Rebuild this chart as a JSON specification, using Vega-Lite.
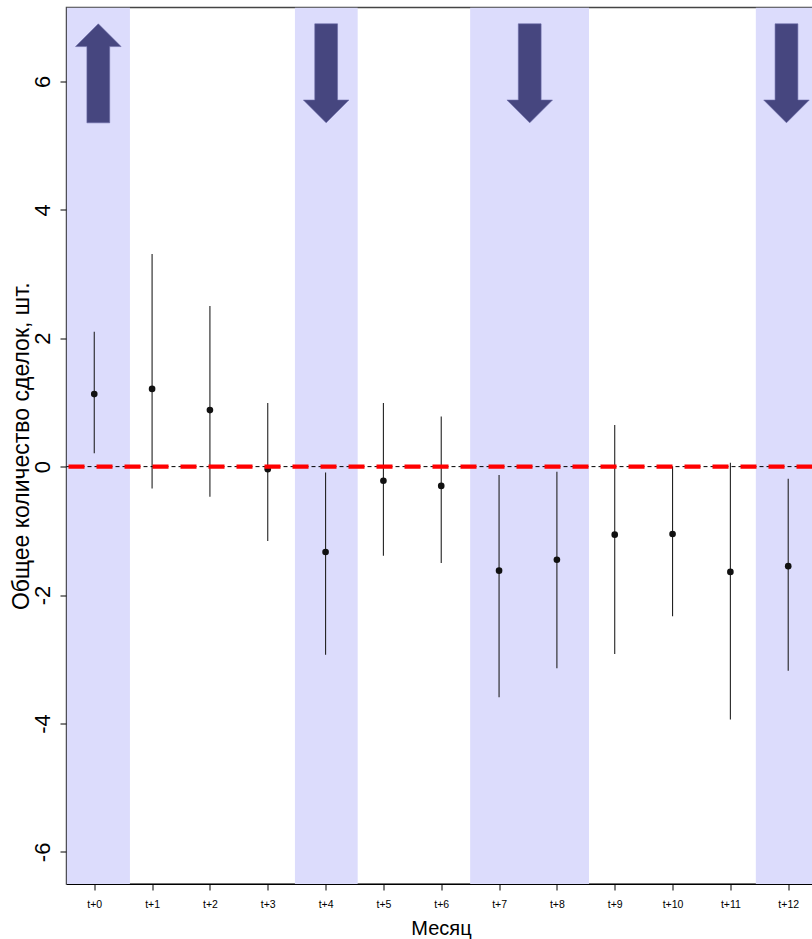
{
  "$schema": "https://vega.github.io/schema/vega-lite/v6.json",
  "autosize": {"type": "none"},
  "width": 746,
  "height": 876.5,
  "padding": {"left": 66.5, "top": 7.5, "right": 0, "bottom": 55},
  "background": "white",
  "config": {
    "font": "Liberation Sans",
    "view": {"stroke": "#444", "strokeWidth": 1.5},
    "axis": {"grid": false, "domainColor": "black", "tickColor": "black", "labelColor": "black", "titleColor": "black", "titleFontWeight": "normal"}
  },
  "datasets": {
    "est": [
      {"m": 0, "est": 1.13, "lo": 0.21, "hi": 2.10},
      {"m": 1, "est": 1.21, "lo": -0.34, "hi": 3.31},
      {"m": 2, "est": 0.88, "lo": -0.47, "hi": 2.50},
      {"m": 3, "est": -0.04, "lo": -1.16, "hi": 0.99},
      {"m": 4, "est": -1.33, "lo": -2.93, "hi": -0.09},
      {"m": 5, "est": -0.22, "lo": -1.39, "hi": 0.99},
      {"m": 6, "est": -0.30, "lo": -1.50, "hi": 0.78},
      {"m": 7, "est": -1.62, "lo": -3.59, "hi": -0.13},
      {"m": 8, "est": -1.45, "lo": -3.14, "hi": -0.08},
      {"m": 9, "est": -1.06, "lo": -2.92, "hi": 0.65},
      {"m": 10, "est": -1.05, "lo": -2.33, "hi": 0.0},
      {"m": 11, "est": -1.64, "lo": -3.94, "hi": 0.06},
      {"m": 12, "est": -1.55, "lo": -3.18, "hi": -0.19}
    ],
    "bands": [
      {"start": -0.48, "end": 0.617},
      {"start": 3.47, "end": 4.555},
      {"start": 6.5, "end": 8.555},
      {"start": 11.44, "end": 12.5}
    ],
    "arrows": [
      {"pos": 0.07, "level": 6.125, "dir": "up"},
      {"pos": 4.01, "level": 6.125, "dir": "down"},
      {"pos": 7.53, "level": 6.125, "dir": "down"},
      {"pos": 11.97, "level": 6.125, "dir": "down"}
    ],
    "zero": [{"y": 0}]
  },
  "layer": [
    {
      "data": {"name": "bands"},
      "mark": {"type": "rect", "color": "#dcdcfc", "clip": true},
      "encoding": {
        "x": {"field": "start", "type": "quantitative",
              "scale": {"domain": [-0.48, 12.42], "nice": false, "zero": false},
              "axis": {"values": [0,1,2,3,4,5,6,7,8,9,10,11,12], "labelExpr": "'t+' + datum.value", "labelFontSize": 10.5, "tickSize": 6, "labelPadding": 9, "title": "Месяц", "titleFontSize": 20, "titlePadding": 9, "titleX": 374.5}},
        "x2": {"field": "end"},
        "y": {"datum": 7.15, "type": "quantitative",
              "scale": {"domain": [-6.5, 7.15], "nice": false, "zero": false},
              "axis": {"values": [-6,-4,-2,0,2,4,6], "labelExpr": "datum.value + ''", "labelAngle": -90, "labelFontSize": 22, "tickSize": 6.5, "labelPadding": 6, "title": "Общее количество сделок, шт.", "titleFontSize": 23, "titlePadding": -2}},
        "y2": {"datum": -6.5}
      }
    },
    {
      "data": {"name": "arrows"},
      "mark": {"type": "point", "filled": true, "fill": "#46467f", "stroke": "#6a6aa6", "strokeWidth": 0.6, "opacity": 1, "size": 9801},
      "encoding": {
        "x": {"field": "pos", "type": "quantitative"},
        "y": {"field": "level", "type": "quantitative"},
        "shape": {"field": "dir", "type": "nominal", "legend": null,
                  "scale": {"domain": ["up", "down"], "range": ["M0,-1L0.46,-0.54L0.23,-0.54L0.23,1L-0.23,1L-0.23,-0.54L-0.46,-0.54Z", "M0,1L0.46,0.54L0.23,0.54L0.23,-1L-0.23,-1L-0.23,0.54L-0.46,0.54Z"]}}
      }
    },
    {
      "data": {"name": "est"},
      "mark": {"type": "rule", "color": "#222", "strokeWidth": 1.1},
      "encoding": {
        "x": {"field": "m", "type": "quantitative"},
        "y": {"field": "lo", "type": "quantitative"},
        "y2": {"field": "hi"}
      }
    },
    {
      "data": {"name": "est"},
      "mark": {"type": "point", "filled": true, "color": "#111", "opacity": 1, "size": 44},
      "encoding": {
        "x": {"field": "m", "type": "quantitative"},
        "y": {"field": "est", "type": "quantitative"}
      }
    },
    {
      "data": {"name": "zero"},
      "mark": {"type": "rule", "color": "black", "strokeWidth": 1, "strokeDash": [4, 3]},
      "encoding": {"y": {"field": "y", "type": "quantitative"}}
    },
    {
      "data": {"name": "zero"},
      "mark": {"type": "rule", "color": "#ff0000", "strokeWidth": 4.3, "strokeDash": [16, 12]},
      "encoding": {"y": {"field": "y", "type": "quantitative"}}
    }
  ]
}
